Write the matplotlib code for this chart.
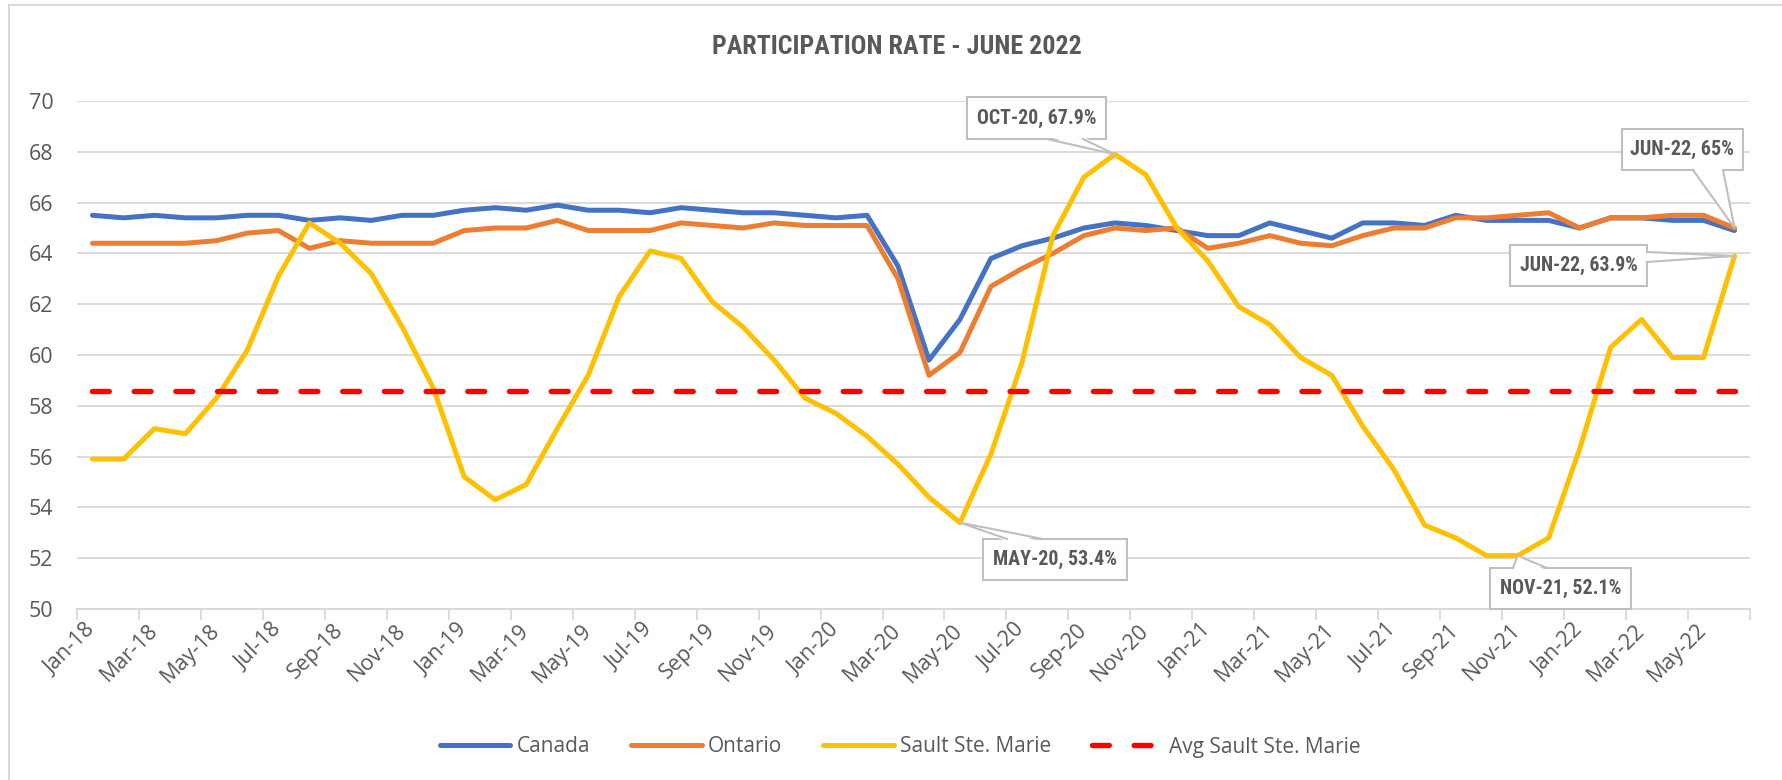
import matplotlib
matplotlib.use("Agg")
import os
import matplotlib.pyplot as plt
from matplotlib import font_manager as fm
from matplotlib.patches import Rectangle, Polygon
from matplotlib.lines import Line2D
from matplotlib.transforms import IdentityTransform
import numpy as np

months = ["Jan-18", "Feb-18", "Mar-18", "Apr-18", "May-18", "Jun-18", "Jul-18", "Aug-18", "Sep-18", "Oct-18", "Nov-18", "Dec-18",
          "Jan-19", "Feb-19", "Mar-19", "Apr-19", "May-19", "Jun-19", "Jul-19", "Aug-19", "Sep-19", "Oct-19", "Nov-19", "Dec-19",
          "Jan-20", "Feb-20", "Mar-20", "Apr-20", "May-20", "Jun-20", "Jul-20", "Aug-20", "Sep-20", "Oct-20", "Nov-20", "Dec-20",
          "Jan-21", "Feb-21", "Mar-21", "Apr-21", "May-21", "Jun-21", "Jul-21", "Aug-21", "Sep-21", "Oct-21", "Nov-21", "Dec-21",
          "Jan-22", "Feb-22", "Mar-22", "Apr-22", "May-22", "Jun-22"]

canada = [65.5, 65.4, 65.5, 65.4, 65.4, 65.5, 65.5, 65.3, 65.4, 65.3, 65.5, 65.5,
          65.7, 65.8, 65.7, 65.9, 65.7, 65.7, 65.6, 65.8, 65.7, 65.6, 65.6, 65.5,
          65.4, 65.5, 63.5, 59.8, 61.4, 63.8, 64.3, 64.6, 65.0, 65.2, 65.1, 64.9,
          64.7, 64.7, 65.2, 64.9, 64.6, 65.2, 65.2, 65.1, 65.5, 65.3, 65.3, 65.3,
          65.0, 65.4, 65.4, 65.3, 65.3, 64.9]

ontario = [64.4, 64.4, 64.4, 64.4, 64.5, 64.8, 64.9, 64.2, 64.5, 64.4, 64.4, 64.4,
           64.9, 65.0, 65.0, 65.3, 64.9, 64.9, 64.9, 65.2, 65.1, 65.0, 65.2, 65.1,
           65.1, 65.1, 63.0, 59.2, 60.1, 62.7, 63.4, 64.0, 64.7, 65.0, 64.9, 65.0,
           64.2, 64.4, 64.7, 64.4, 64.3, 64.7, 65.0, 65.0, 65.4, 65.4, 65.5, 65.6,
           65.0, 65.4, 65.4, 65.5, 65.5, 65.0]

sault = [55.9, 55.9, 57.1, 56.9, 58.3, 60.2, 63.1, 65.2, 64.4, 63.2, 61.1, 58.7,
         55.2, 54.3, 54.9, 57.1, 59.2, 62.3, 64.1, 63.8, 62.1, 61.1, 59.8, 58.3,
         57.7, 56.8, 55.7, 54.4, 53.4, 56.1, 59.7, 64.7, 67.0, 67.9, 67.1, 65.0,
         63.7, 61.9, 61.2, 59.9, 59.2, 57.2, 55.5, 53.3, 52.8, 52.1, 52.1, 52.8,
         56.3, 60.3, 61.4, 59.9, 59.9, 63.9]

avg_sault = 58.6

series_names = ["Canada", "Ontario", "Sault Ste. Marie", "Avg Sault Ste. Marie"]
title = "PARTICIPATION RATE - JUNE 2022"

callouts = [
    (sault, 33, "OCT-20, 67.9%"),
    (sault, 28, "MAY-20, 53.4%"),
    (sault, 46, "NOV-21, 52.1%"),
    (ontario, 53, "JUN-22, 65%"),
    (sault, 53, "JUN-22, 63.9%"),
]
# box (x0, y0, x1, y1) and tail base points, pixel coords with top-left origin
callout_boxes = [
    ((967, 97, 1106, 139), ((1047, 139), (1083, 139))),
    ((983, 539, 1127, 580), ((1007, 539), (1043, 539))),
    ((1490, 568, 1631, 609), ((1513, 568), (1547, 568))),
    ((1622, 129, 1743, 170), ((1693, 170), (1723, 170))),
    ((1510, 245, 1647, 286), ((1647, 252), (1647, 262))),
]


def find_font(patterns, bold):
    files = [f.fname for f in fm.fontManager.ttflist]
    for p in patterns:
        for fn in files:
            b = os.path.basename(fn).lower().replace(" ", "").replace("_", "")
            if p in b:
                return fn
    for fn in files:
        b = os.path.basename(fn).lower()
        if ("condensed" in b or "narrow" in b) and (("bold" in b) == bold) and "italic" not in b and "oblique" not in b:
            return fn
    return None


bold_file = find_font(["liberationsansnarrow-bold.", "robotocondensed-bold.", "opensanscondensed-bold.",
                       "opensans-condensedbold.", "dejavusanscondensed-bold.", "notosans-condensedbold.",
                       "notosans-semicondensedbold."], True)


def fprop(fname, size, fallback_weight):
    if fname:
        return fm.FontProperties(fname=fname, size=size)
    return fm.FontProperties(family="DejaVu Sans", weight=fallback_weight, size=size)


W, H = 1782, 780
GRAY_TXT = "#595959"
GRID = "#D9D9D9"
TICKF = ["Open Sans", "DejaVu Sans"]
LW = 3.6

fig = plt.figure(figsize=(W / 100, H / 100), dpi=100)
fig.patch.set_facecolor("white")
ax = fig.add_axes([77 / W, 1 - 609 / H, (1750 - 77) / W, (609 - 101) / H])
renderer = fig.canvas.get_renderer()

x = np.arange(len(months))
ax.plot(x, canada, color="#4472C4", lw=LW, solid_capstyle="round", solid_joinstyle="round", zorder=3, label=series_names[0])
ax.plot(x, ontario, color="#ED7D31", lw=LW, solid_capstyle="round", solid_joinstyle="round", zorder=4, label=series_names[1])
ax.plot(x, sault, color="#FFC000", lw=LW, solid_capstyle="round", solid_joinstyle="round", zorder=5, label=series_names[2])
ax.plot(x, np.full(len(months), avg_sault), color="#FF0000", lw=3.9, dashes=(3.1, 4.6),
        dash_capstyle="round", zorder=6, label=series_names[3])

ax.set_xlim(-0.5, len(months) - 0.5)
ax.set_ylim(50, 70)
ax.set_yticks(np.arange(50, 71, 2))
ax.grid(axis="y", color=GRID, lw=1.3, zorder=0)
ax.set_axisbelow(True)
for s in ["top", "right", "left"]:
    ax.spines[s].set_visible(False)
ax.spines["bottom"].set_color(GRID)
ax.spines["bottom"].set_linewidth(1.3)

ax.set_xticks(x[::2])
ax.set_xticklabels(months[::2], rotation=45, ha="right", va="center", rotation_mode="anchor",
                   fontsize=15.5, color=GRAY_TXT, family=TICKF)
ax.set_xticks(np.arange(-0.5, len(months), 2), minor=True)
ax.tick_params(axis="x", which="major", length=0, pad=13)
ax.tick_params(axis="x", which="minor", length=8, width=1.3, color=GRID)
ax.tick_params(axis="y", length=0, pad=17, labelsize=15.5, labelcolor=GRAY_TXT)
for t in ax.get_yticklabels():
    t.set_family(TICKF)


def fitted_text(xc, yc, txt, fname, target_w, max_size, zorder=23):
    t = fig.text(xc / W, 1 - yc / H, txt, ha="center", va="center", color=GRAY_TXT,
                 fontproperties=fprop(fname, max_size, "bold"), zorder=zorder)
    w = t.get_window_extent(renderer).width
    if w > target_w:
        t.set_fontsize(max_size * target_w / w)
    return t


# title
fitted_text(897, 47, title, bold_file, 370, 25, zorder=5)

# outer chart frame
fig.add_artist(Line2D([9 / W, 9 / W], [0, 1 - 5 / H], color=GRID, lw=1.5, transform=fig.transFigure))
fig.add_artist(Line2D([9 / W, 1], [1 - 5 / H, 1 - 5 / H], color=GRID, lw=1.5, transform=fig.transFigure))

# callouts
ident = IdentityTransform()
for (vals, idx, txt), (box, base) in zip(callouts, callout_boxes):
    x0, y0, x1, y1 = box
    px, py = ax.transData.transform((idx, vals[idx]))
    fig.add_artist(Rectangle((x0, H - y1), x1 - x0, y1 - y0, transform=ident, facecolor="white",
                             edgecolor="#BFBFBF", lw=1.5, zorder=20))
    (bx1, by1), (bx2, by2) = base
    b1 = np.array([bx1, H - by1], float)
    b2 = np.array([bx2, H - by2], float)
    cx, cy = (x0 + x1) / 2, (y0 + y1) / 2
    ccen = np.array([cx, H - cy])
    half = np.array([(x1 - x0) / 2 - 1, (y1 - y0) / 2 - 1])
    in1 = b1 + 2.5 * np.sign(ccen - b1) * (np.abs(ccen - b1) > half)
    in2 = b2 + 2.5 * np.sign(ccen - b2) * (np.abs(ccen - b2) > half)
    fig.add_artist(Polygon([in1, (px, py), in2], closed=True, transform=ident, facecolor="white",
                           edgecolor="none", zorder=21))
    fig.add_artist(Line2D([b1[0], px, b2[0]], [b1[1], py, b2[1]], transform=ident, color="#BFBFBF",
                          lw=1.5, zorder=22))
    fitted_text(cx, cy, txt, bold_file, (x1 - x0) * 0.86, 19)

# legend
handles = [
    Line2D([], [], color="#4472C4", lw=LW, solid_capstyle="round"),
    Line2D([], [], color="#ED7D31", lw=LW, solid_capstyle="round"),
    Line2D([], [], color="#FFC000", lw=LW, solid_capstyle="round"),
    Line2D([], [], color="#FF0000", lw=3.9, dashes=(3.1, 4.6), dash_capstyle="round"),
]
leg = fig.legend(handles, series_names, loc="center", bbox_to_anchor=(900 / W, 1 - 747 / H), ncol=4,
                 frameon=False, prop=fm.FontProperties(family=TICKF, size=15), handlelength=3.4,
                 columnspacing=1.95, handletextpad=0.3)
for t in leg.get_texts():
    t.set_color(GRAY_TXT)

fig.savefig("out.png", dpi=100, facecolor="white")
